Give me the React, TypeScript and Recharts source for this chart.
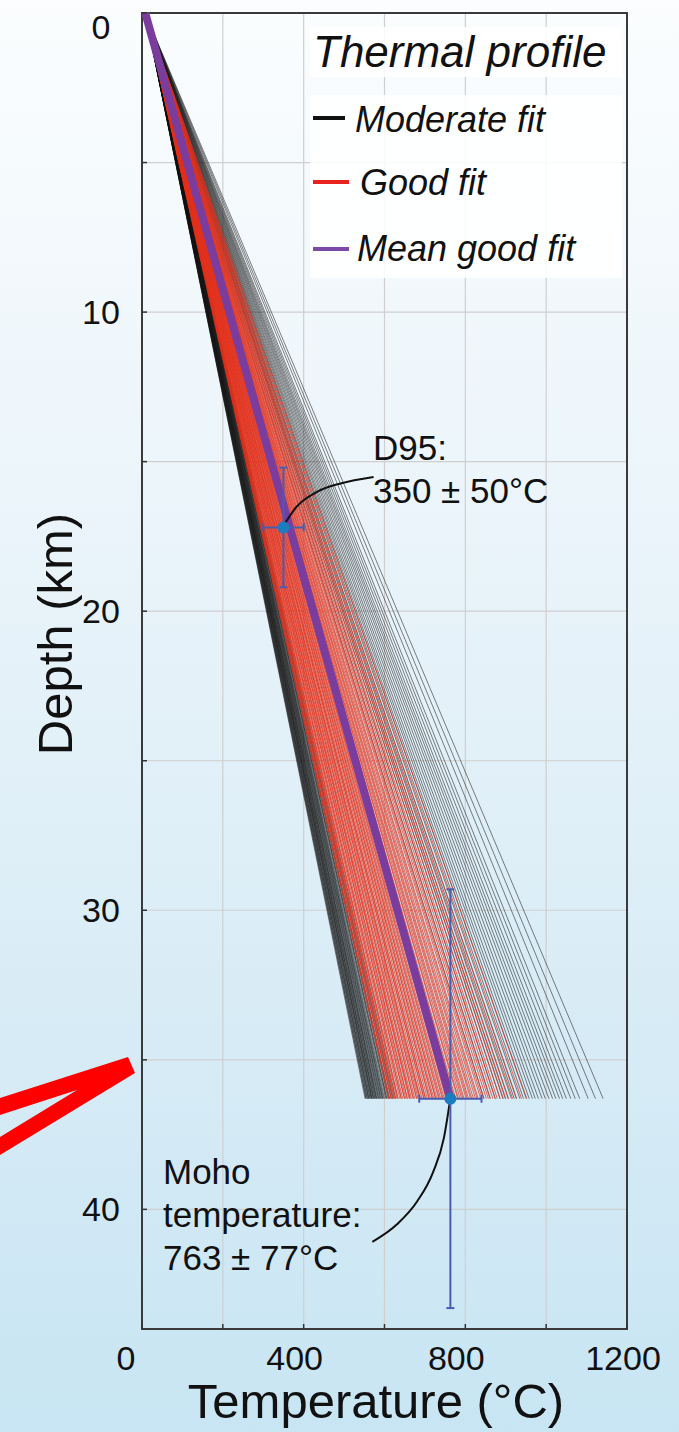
import {
  ComposedChart,
  Line,
  Scatter,
  ErrorBar,
  XAxis,
  YAxis,
  CartesianGrid,
  ReferenceArea,
  Label,
} from 'recharts'

const FONT = "'Liberation Sans', Arial, Helvetica, sans-serif"

// surface temperature (°C) and depth where the profiles stop (km)
const SURFACE_T = 8
const MOHO_DEPTH = 36.3

// temperature at the Moho for each modelled profile
const moderateFitEnds = [
  552, 554, 555, 557, 558, 560, 561, 562, 564, 565, 567, 568, 569, 570, 572, 573,
  574, 576, 577, 579, 580, 581, 583, 585, 586, 588, 590, 591, 593, 595, 596, 598,
  600, 603, 605, 606, 609, 611, 613, 617, 620, 622, 628, 846, 862, 874, 886, 893,
  899, 906, 914, 921, 927, 935, 944, 951, 958, 966, 973, 981, 990, 998, 1007, 1016,
  1024, 1033, 1041, 1050, 1061, 1072, 1083, 1104, 1122, 1141,
]
const goodFitEnds = [
  610, 612, 616, 617, 620, 624, 625, 627, 631, 633, 634, 638, 641, 642, 645, 649,
  650, 653, 656, 657, 661, 663, 664, 667, 671, 672, 675, 679, 680, 683, 686, 688,
  689, 693, 697, 698, 701, 702, 706, 710, 711, 714, 718, 719, 722, 726, 727, 730,
  734, 736, 739, 743, 745, 748, 752, 754, 757, 761, 763, 766, 771, 773, 776, 781,
  783, 787, 791, 794, 797, 802, 805, 808, 813, 816, 820, 825, 829, 832, 838, 842,
  846, 852, 857, 861, 868, 874, 879, 886, 894, 900, 907, 917, 926, 939, 952,
]
const meanGoodFitEnd = 763

const xTicks = [0, 200, 400, 600, 800, 1000, 1200]
const xLabels = [0, 400, 800, 1200]
const yTicks = [0, 5, 10, 15, 20, 25, 30, 35, 40]
const yLabels = [0, 10, 20, 30, 40]

const d95Point = [{ t: 350, d: 17.2, tErr: 50, dErr: 2 }]
const mohoPoint = [{ t: 763, d: 36.3, tErr: 77, dErr: 7 }]

// leader curves from the points to their labels
const d95Leader = [
  { t: 346, d: 17.23 },
  { t: 383, d: 16.5 },
  { t: 433, d: 16.01 },
  { t: 491, d: 15.73 },
  { t: 573, d: 15.51 },
]
const mohoLeader = [
  { t: 570, d: 41.09 },
  { t: 631, d: 40.5 },
  { t: 681, d: 39.73 },
  { t: 720, d: 38.76 },
  { t: 747, d: 37.61 },
  { t: 763, d: 36.28 },
]

const profile = (end: number) => [
  { t: SURFACE_T, d: 0 },
  { t: end, d: MOHO_DEPTH },
]

const xLabelShift: Record<number, number> = { 0: -16, 400: -9, 800: -9, 1200: -4 }

function XTick({ x, y, payload }: any) {
  const v = payload.value
  return (
    <g>
      <line x1={x} x2={x} y1={y} y2={y - 5} stroke="#333" strokeWidth={1.5} />
      {xLabels.includes(v) && (
        <text x={x + (xLabelShift[v] ?? 0)} y={y + 41} textAnchor="middle" fontSize={34} fontFamily={FONT} fill="#111">
          {v}
        </text>
      )}
    </g>
  )
}

function YTick({ x, y, payload }: any) {
  const v = payload.value
  return (
    <g>
      <line x1={x} x2={x + 5} y1={y} y2={y} stroke="#333" strokeWidth={1.5} />
      {yLabels.includes(v) && (
        <text x={101} y={y + (v === 0 ? 25.5 : 12)} textAnchor="middle" fontSize={34} fontFamily={FONT} fill="#111">
          {v}
        </text>
      )}
    </g>
  )
}

const dot = (props: any) => <circle cx={props.cx} cy={props.cy} r={6} fill="#1b7cc0" />

export default function App() {
  return (
    <div
      style={{
        position: 'absolute',
        left: 0,
        top: 0,
        width: 679,
        height: 1432,
        background: 'linear-gradient(to bottom, #fbfdfe 0%, #e6f2f9 45%, #c8e5f3 100%)',
        fontFamily: FONT,
      }}
    >
      <ComposedChart width={679} height={1432} margin={{ top: 13, right: 52, bottom: 0, left: 0 }}>
        <CartesianGrid stroke="#cfcfcf" strokeWidth={1.2} />
        <XAxis
          type="number"
          dataKey="t"
          domain={[0, 1200]}
          ticks={xTicks}
          interval={0}
          height={103}
          axisLine={false}
          tickLine={false}
          tickSize={0}
          tickMargin={0}
          tick={<XTick />}
        >
          <Label
            content={() => (
              <text x={376} y={1418} textAnchor="middle" fontSize={49} fontFamily={FONT} fill="#111">
                Temperature (°C)
              </text>
            )}
          />
        </XAxis>
        <YAxis
          type="number"
          dataKey="d"
          domain={[0, 44]}
          reversed
          ticks={yTicks}
          interval={0}
          width={142}
          axisLine={false}
          tickLine={false}
          tickSize={0}
          tickMargin={0}
          tick={<YTick />}
        >
          <Label
            content={() => (
              <text
                x={72}
                y={634}
                transform="rotate(-90 72 634)"
                textAnchor="middle"
                fontSize={49}
                fontFamily={FONT}
                fill="#111"
              >
                Depth (km)
              </text>
            )}
          />
        </YAxis>

        {moderateFitEnds.map((end, i) => (
          <Line
            key={'m' + i}
            data={profile(end)}
            dataKey="d"
            stroke="#151515"
            strokeOpacity={0.6}
            strokeWidth={0.9}
            dot={false}
            activeDot={false}
            isAnimationActive={false}
          />
        ))}
        {goodFitEnds.map((end, i) => (
          <Line
            key={'g' + i}
            data={profile(end)}
            dataKey="d"
            stroke="#e2301c"
            strokeOpacity={0.72}
            strokeWidth={1}
            dot={false}
            activeDot={false}
            isAnimationActive={false}
          />
        ))}
        <Line
          data={profile(meanGoodFitEnd)}
          dataKey="d"
          stroke="#7a3d9e"
          strokeWidth={8}
          dot={false}
          activeDot={false}
          isAnimationActive={false}
        />

        <Line data={d95Leader} dataKey="d" type="monotoneX" stroke="#111" strokeWidth={2} dot={false} activeDot={false} isAnimationActive={false} />
        <Line data={mohoLeader} dataKey="d" type="monotoneX" stroke="#111" strokeWidth={2} dot={false} activeDot={false} isAnimationActive={false} />

        <Scatter data={d95Point} dataKey="d" shape={dot} isAnimationActive={false}>
          <ErrorBar dataKey="tErr" direction="x" stroke="#4a5cb0" strokeWidth={2} width={4} />
          <ErrorBar dataKey="dErr" direction="y" stroke="#4a5cb0" strokeWidth={2} width={4} />
        </Scatter>
        <Scatter data={mohoPoint} dataKey="d" shape={dot} isAnimationActive={false}>
          <ErrorBar dataKey="tErr" direction="x" stroke="#4a5cb0" strokeWidth={2} width={4} />
          <ErrorBar dataKey="dErr" direction="y" stroke="#4a5cb0" strokeWidth={2} width={4} />
        </Scatter>

        <ReferenceArea x1={0} x2={1200} y1={0} y2={44} fill="none" stroke="#3a3a3a" strokeWidth={2} />
      </ComposedChart>

      <svg
        width={679}
        height={1432}
        style={{ position: 'absolute', left: 0, top: 0, pointerEvents: 'none' }}
        fontFamily={FONT}
      >
        {/* legend */}
        <rect x={310} y={27} width={312} height={50} fill="#ffffff" fillOpacity={0.88} />
        <rect x={310} y={95} width={312} height={183} fill="#ffffff" fillOpacity={0.88} />
        <text x={313} y={67} fontSize={44} fontStyle="italic" fill="#111">Thermal profile</text>
        <line x1={313} x2={345} y1={118} y2={118} stroke="#111" strokeWidth={4} />
        <text x={355} y={132} fontSize={36} fontStyle="italic" fill="#111">Moderate fit</text>
        <line x1={313} x2={349} y1={182} y2={182} stroke="#e8231f" strokeWidth={4} />
        <text x={360} y={195} fontSize={36} fontStyle="italic" fill="#111">Good fit</text>
        <line x1={313} x2={349} y1={249} y2={249} stroke="#7b4aa8" strokeWidth={4} />
        <text x={357} y={261} fontSize={36} fontStyle="italic" fill="#111">Mean good fit</text>

        {/* annotations */}
        <text x={373} y={460} fontSize={35} fill="#111">D95:</text>
        <text x={373} y={503} fontSize={35} fill="#111">350 ± 50°C</text>
        <text x={163} y={1184} fontSize={35} fill="#111">Moho</text>
        <text x={163} y={1227} fontSize={35} fill="#111">temperature:</text>
        <text x={163} y={1270} fontSize={35} fill="#111">763 ± 77°C</text>

        {/* red arrow from the surrounding figure */}
        <polygon
          points="0,1098 128,1057 135,1073 0,1155 0,1137 77,1090 0,1115"
          fill="#ff0000"
        />
      </svg>
    </div>
  )
}
